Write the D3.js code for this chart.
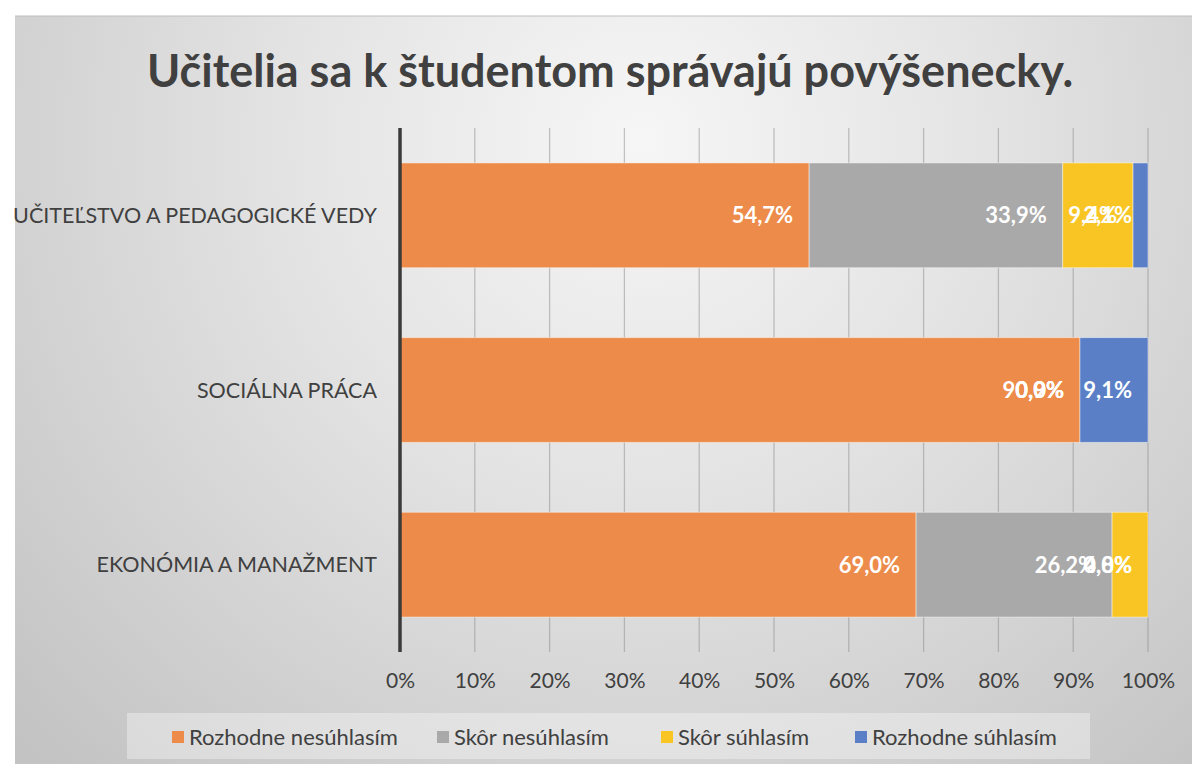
<!DOCTYPE html>
<html>
<head>
<meta charset="utf-8">
<script src="https://cdn.jsdelivr.net/npm/d3@7"></script>
<style>
  body { margin: 0; background: #fff; }
  svg { display: block; font-family: Lato, "Open Sans", sans-serif; }
</style>
</head>
<body>
<div id="chart"></div>
<script>
// Data
var categories = ["UČITEĽSTVO A PEDAGOGICKÉ VEDY", "SOCIÁLNA PRÁCA", "EKONÓMIA A MANAŽMENT"];
var seriesNames = ["Rozhodne nesúhlasím", "Skôr nesúhlasím", "Skôr súhlasím", "Rozhodne súhlasím"];
var rozhodneNesuhlasim = [54.7, 90.9, 69.0];
var skorNesuhlasim = [33.9, 0.0, 26.2];
var skorSuhlasim = [9.4, 0.0, 4.8];
var rozhodneSuhlasim = [2.1, 9.1, 0.0];
var xTicks = [0, 10, 20, 30, 40, 50, 60, 70, 80, 90, 100];
var colors = ["#ED8B4A", "#A9A9A9", "#F8C524", "#5A7FC7"];

var W = 1192, H = 764;
var svg = d3.select("#chart").append("svg")
    .attr("width", W).attr("height", H);

// background gradient
var defs = svg.append("defs");
var grad = defs.append("radialGradient")
    .attr("id", "bg")
    .attr("gradientUnits", "userSpaceOnUse")
    .attr("cx", 640).attr("cy", 140).attr("r", 860);
grad.append("stop").attr("offset", "0%").attr("stop-color", "#f6f6f6");
grad.append("stop").attr("offset", "40%").attr("stop-color", "#e4e4e4");
grad.append("stop").attr("offset", "100%").attr("stop-color", "#c3c3c3");

svg.append("rect")
    .attr("x", 15).attr("y", 16)
    .attr("width", W - 15).attr("height", H - 16)
    .attr("fill", "url(#bg)");
svg.append("line")
    .attr("x1", 15).attr("x2", W).attr("y1", 16).attr("y2", 16)
    .attr("stroke", "#bdbdbd").attr("stroke-width", 1);

// Scales
var x = d3.scaleLinear().domain([0, 100]).range([400, 1148]);
var y = d3.scaleBand().domain(categories).range([128, 652])
    .paddingInner(0.4).paddingOuter(0.2);

// Title
svg.append("text")
    .attr("x", 610).attr("y", 87)
    .attr("text-anchor", "middle")
    .style("font-size", "45px")
    .style("font-weight", "bold")
    .style("fill", "#404040")
    .text("Učitelia sa k študentom správajú povýšenecky.");

// Grid
svg.append("g")
    .selectAll("line")
    .data(xTicks.slice(1))
    .enter().append("line")
    .attr("x1", function(d) { return x(d); })
    .attr("x2", function(d) { return x(d); })
    .attr("y1", 128).attr("y2", 652)
    .attr("stroke", "#8c8c8c").attr("stroke-opacity", 0.5)
    .attr("stroke-width", 1.25);

// Stack
var rows = categories.map(function(c, i) {
    return {cat: c, vals: [rozhodneNesuhlasim[i], skorNesuhlasim[i], skorSuhlasim[i], rozhodneSuhlasim[i]]};
});
var segs = [];
rows.forEach(function(r) {
    var acc = 0;
    r.vals.forEach(function(v, k) {
        segs.push({cat: r.cat, k: k, v: v, x0: acc, x1: acc + v});
        acc += v;
    });
});

svg.append("g")
    .selectAll("rect")
    .data(segs)
    .enter().append("rect")
    .attr("x", function(d) { return x(d.x0); })
    .attr("y", function(d) { return y(d.cat); })
    .attr("width", function(d) { return Math.max(0, x(Math.min(d.x1, 100)) - x(d.x0)); })
    .attr("height", y.bandwidth())
    .attr("fill", function(d) { return colors[d.k]; })
    .attr("stroke", "#ffffff").attr("stroke-opacity", 0.45)
    .attr("stroke-width", function(d) { return d.v > 0 ? 1 : 0; });

// Data labels (inside end)
svg.append("g")
    .selectAll("text")
    .data(segs)
    .enter().append("text")
    .attr("x", function(d) { return x(Math.min(d.x1, 100)) - 16; })
    .attr("y", function(d) { return y(d.cat) + y.bandwidth() / 2; })
    .attr("dy", "0.36em")
    .attr("text-anchor", "end")
    .style("font-size", "22px")
    .style("font-weight", "bold")
    .style("fill", "#ffffff")
    .text(function(d) { return d.v.toFixed(1).replace(".", ",") + "%"; });

// Y axis line + labels
svg.append("line")
    .attr("x1", 400).attr("x2", 400).attr("y1", 128).attr("y2", 652)
    .attr("stroke", "#3a3a3a").attr("stroke-width", 3.5);

svg.append("g")
    .selectAll("text")
    .data(categories)
    .enter().append("text")
    .attr("x", 377)
    .attr("y", function(d) { return y(d) + y.bandwidth() / 2; })
    .attr("dy", "0.36em")
    .attr("text-anchor", "end")
    .style("font-size", "21.5px")
    .style("fill", "#404040")
    .text(function(d) { return d; });

// X axis labels
var xAxis = d3.axisBottom(x).tickValues(xTicks).tickSize(0).tickPadding(0)
    .tickFormat(function(d) { return d + "%"; });
var gx = svg.append("g")
    .attr("transform", "translate(0,673)")
    .call(xAxis);
gx.select(".domain").remove();
gx.selectAll("text")
    .attr("dy", "0.71em")
    .style("font-family", "Lato, 'Open Sans', sans-serif")
    .style("font-size", "21px")
    .style("fill", "#404040");

// Legend
svg.append("rect")
    .attr("x", 127).attr("y", 713)
    .attr("width", 963).attr("height", 46)
    .attr("fill", "#ffffff").attr("fill-opacity", 0.35);

var legendX = [172, 437, 661, 855];
var lg = svg.append("g")
    .selectAll("g")
    .data(seriesNames)
    .enter().append("g")
    .attr("transform", function(d, i) { return "translate(" + legendX[i] + ",737)"; });
lg.append("rect")
    .attr("x", 0).attr("y", -6)
    .attr("width", 12).attr("height", 12)
    .attr("fill", function(d, i) { return colors[i]; });
lg.append("text")
    .attr("x", 17).attr("dy", "0.36em")
    .style("font-size", "22px")
    .style("fill", "#404040")
    .text(function(d) { return d; });
</script>
</body>
</html>
